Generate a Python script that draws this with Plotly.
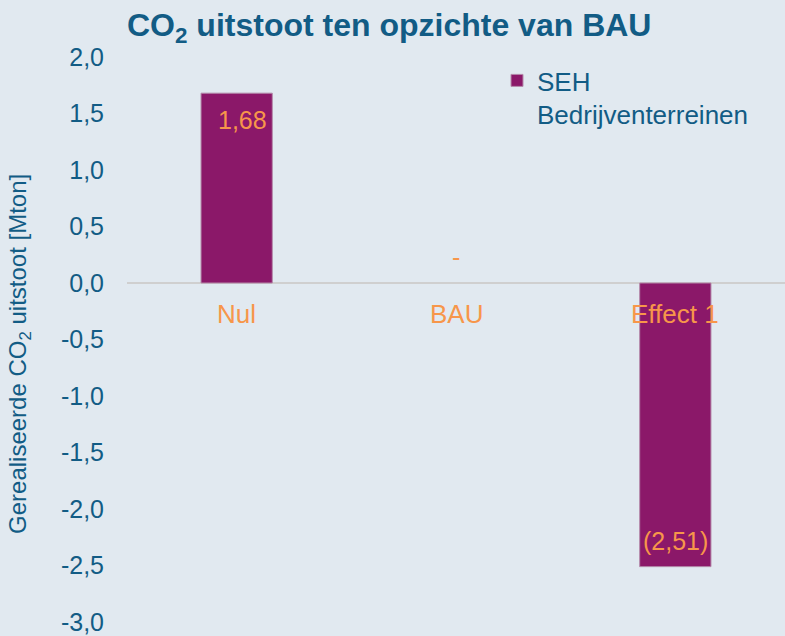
import plotly.graph_objects as go

categories = ["Nul", "BAU", "Effect 1"]
values = [1.68, 0.0, -2.51]
series_name = "SEH<br>Bedrijventerreinen"
y_ticks = [2.0, 1.5, 1.0, 0.5, 0.0, -0.5, -1.0, -1.5, -2.0, -2.5, -3.0]

BG = "#E1E9F0"
BAR = "#8B1869"
BLUE = "#125C85"
ORANGE = "#F7964A"
FONT = "Liberation Sans, Arial, sans-serif"


def fmt(v):
    if abs(v) < 1e-9:
        return "-"
    s = f"{abs(v):.2f}".replace(".", ",")
    return s if v > 0 else f"({s})"


fig = go.Figure()
fig.add_trace(go.Bar(
    x=categories, y=values, name=series_name,
    marker=dict(color=BAR,
                line=dict(color="#B48AAA", width=[0 if abs(v) < 1e-9 else 1 for v in values])),
    width=0.325, showlegend=True,
))

# data labels
for c, v in zip(categories, values):
    if v > 0:
        ys = -27
    elif v < 0:
        ys = 26
    else:
        ys = 26
    fig.add_annotation(x=c, y=v, xref="x", yref="y", text=fmt(v), showarrow=False,
                       yshift=ys, xshift=6 if v > 0 else 0,
                       font=dict(family=FONT, size=25, color=ORANGE))

# category labels at zero line
for c in categories:
    fig.add_annotation(x=c, y=0, xref="x", yref="y", text=c, showarrow=False,
                       yanchor="top", yshift=-14,
                       font=dict(family=FONT, size=26, color=ORANGE))

# y axis title
fig.add_annotation(x=(20 - 127) / 658, y=(624 - 355) / 567, xref="paper", yref="paper",
                   xanchor="center", yanchor="middle",
                   text="Gerealiseerde CO<sub>2</sub> uitstoot [Mton]", textangle=-90,
                   showarrow=False, font=dict(family=FONT, size=24, color=BLUE))

fig.update_layout(
    width=785, height=636,
    paper_bgcolor=BG, plot_bgcolor=BG,
    margin=dict(l=127, r=0, t=57, b=12),
    font=dict(family=FONT, color=BLUE),
    title=dict(text="<b>CO<sub>2</sub> uitstoot ten opzichte van BAU</b>",
               x=0.0, xref="paper", xanchor="left", y=0.961, yanchor="middle",
               font=dict(family=FONT, size=32, color=BLUE)),
    legend=dict(x=(497 - 127) / 658, y=(624 - 57) / 567, xanchor="left", yanchor="top",
                bgcolor="rgba(0,0,0,0)", font=dict(family=FONT, size=26, color=BLUE),
                valign="top", itemwidth=30),
    xaxis=dict(showticklabels=False, showgrid=False, zeroline=False, showline=False,
               range=[-0.5, 2.5], fixedrange=True),
    yaxis=dict(range=[-3.0, 2.0], tickvals=y_ticks,
               ticktext=[f"{t:.1f}".replace(".", ",") for t in y_ticks],
               showgrid=False, zeroline=True, zerolinecolor="#CFCFCF", zerolinewidth=2,
               showline=False, ticks="", ticklabelstandoff=22, ticklabeloverflow="allow",
               tickfont=dict(family=FONT, size=25, color=BLUE)),
)

fig.write_html("out.html", config={"displayModeBar": False},
               post_script="document.body.style.margin='0';")
